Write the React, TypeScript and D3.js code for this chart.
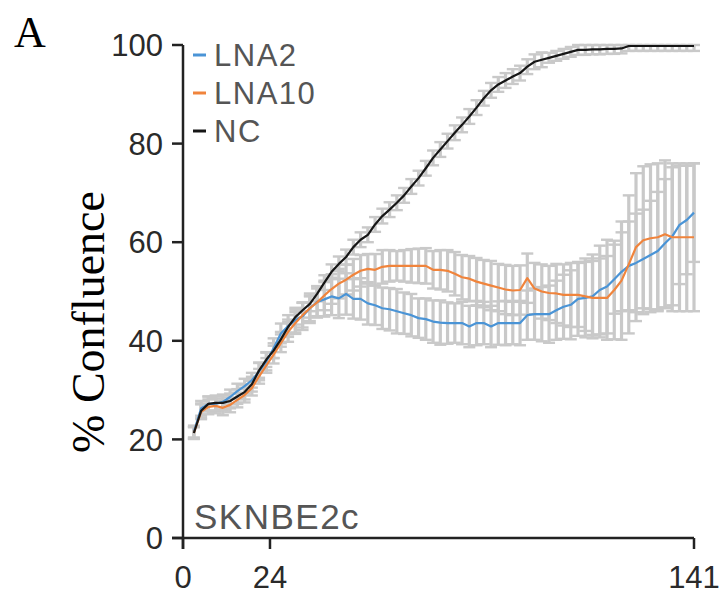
import React from "react";
import * as d3 from "d3";

// Time points (hours)
const hours = [
  3, 5, 7, 9, 11, 13, 15, 17, 19, 21, 23, 25, 27, 29, 31, 33, 35, 37, 39, 41,
  43, 45, 47, 49, 51, 53, 55, 57, 59, 61, 63, 65, 67, 69, 71, 73, 75, 77, 79, 81,
  83, 85, 87, 89, 91, 93, 95, 97, 99, 101, 103, 105, 107, 109, 111, 113, 115, 117, 119, 121,
  123, 125, 127, 129, 131, 133, 135, 137, 139, 141,
];

const lna2 = [
  21.6, 26.3, 27.2, 27.2, 27.6, 28.6, 29.8, 30.8, 32.0, 33.8, 35.8, 38.5, 41.5, 43.0, 44.2, 45.0, 46.6, 47.9, 48.4, 49.0,
  48.6, 49.5, 48.5, 48.5, 47.6, 47.2, 46.6, 46.4, 46.0, 45.6, 45.2, 44.6, 44.4, 43.9, 43.7, 43.6, 43.6, 43.6, 42.9, 43.6,
  43.6, 42.9, 43.6, 43.6, 43.6, 43.6, 45.2, 45.4, 45.4, 45.4, 46.2, 46.9, 47.3, 48.5, 48.7, 49.0, 50.3, 51.0, 52.5, 54.0,
  55.2, 55.8, 56.6, 57.4, 58.2, 59.8, 61.2, 63.5, 64.5, 66.0,
];
const lna2Err = [
  1.2, 1.5, 1.5, 1.5, 1.5, 1.5, 1.5, 1.5, 1.5, 1.8, 1.8, 2.0, 2.0, 2.2, 2.5, 2.8, 3.0, 3.2, 3.5, 3.8,
  4.0, 4.2, 4.0, 4.2, 4.3, 4.0, 4.2, 4.3, 4.5, 4.2, 4.3, 4.0, 4.2, 4.3, 4.5, 4.2, 4.0, 4.3, 4.2, 4.5,
  4.3, 4.2, 4.4, 4.5, 4.3, 4.5, 5.0, 5.2, 5.5, 5.8, 6.0, 6.5, 7.0, 7.5, 8.0, 8.5, 9.0, 9.5, 7.0, 8.0,
  9.0, 10.0, 10.0, 11.0, 12.0, 13.0, 14.0, 12.0, 11.0, 10.0,
];

const lna10 = [
  21.3, 25.6, 26.6, 26.8, 26.4, 27.0, 28.0, 29.0, 30.4, 32.8, 35.0, 37.2, 39.5, 41.8, 43.6, 45.2, 46.6, 47.8, 49.2, 50.5,
  51.6, 52.4, 53.4, 54.2, 54.6, 54.4, 55.0, 55.2, 55.2, 55.2, 55.2, 55.2, 55.2, 54.4, 54.4, 54.2, 53.6, 52.9, 52.6, 52.0,
  51.6, 51.2, 50.8, 50.4, 50.2, 50.3, 52.7, 50.6, 50.0, 49.7, 49.6, 49.3, 49.3, 49.3, 49.0, 48.7, 48.7, 48.7, 50.3, 52.2,
  55.5, 59.0, 60.4, 60.8, 61.0, 61.6, 61.0, 61.0, 61.0, 61.0,
];
const lna10Err = [
  1.2, 1.5, 1.5, 1.5, 1.5, 1.5, 1.5, 1.5, 1.5, 1.5, 1.5, 1.8, 1.8, 2.0, 2.2, 2.5, 2.6, 2.8, 3.0, 3.0,
  3.0, 3.0, 3.2, 3.2, 3.0, 3.2, 3.4, 3.2, 3.0, 3.2, 3.4, 3.5, 3.6, 3.8, 4.0, 4.2, 4.4, 4.5, 4.6, 4.8,
  4.8, 5.0, 4.8, 5.0, 5.0, 5.0, 5.0, 5.2, 5.5, 5.5, 6.0, 6.2, 6.5, 6.5, 7.0, 7.5, 8.0, 8.5, 10.0, 12.0,
  14.0, 15.0, 15.0, 15.0, 15.0, 15.0, 15.0, 15.0, 15.0, 15.0,
];

const nc = [
  21.3, 25.8, 27.2, 27.4, 27.4, 27.8, 28.7, 29.6, 31.2, 34.0, 36.2, 38.0, 40.3, 42.8, 44.8, 46.2, 47.5, 49.5, 51.8, 54.0,
  55.6, 57.0, 59.0, 60.5, 61.5, 63.6, 65.3, 66.6, 68.0, 69.5, 71.3, 73.0, 75.0, 77.1, 78.8, 80.5, 82.2, 83.8, 85.5, 87.3,
  89.2, 90.8, 92.0, 92.8, 93.6, 94.3, 95.6, 96.6, 97.0, 97.4, 97.8, 98.2, 98.6, 99.0, 99.0, 99.1, 99.1, 99.2, 99.2, 99.3,
  99.8, 99.8, 99.8, 99.8, 99.8, 99.8, 99.8, 99.8, 99.8, 99.8,
];
const ncErr = [
  1.2, 1.5, 1.5, 1.5, 1.5, 1.5, 1.5, 1.5, 1.5, 1.5, 1.5, 1.5, 1.5, 1.5, 1.5, 1.5, 1.5, 1.5, 1.5, 1.5,
  1.5, 1.5, 1.5, 1.5, 1.5, 1.5, 1.5, 1.5, 1.5, 1.5, 1.5, 1.5, 1.5, 1.5, 1.5, 1.5, 1.5, 1.5, 1.5, 1.5,
  1.5, 1.5, 1.5, 1.5, 1.5, 1.5, 1.5, 1.5, 1.5, 1.0, 1.0, 1.0, 1.0, 1.0, 1.0, 1.0, 1.0, 1.0, 1.0, 1.0,
  1.0, 1.0, 1.0, 1.0, 1.0, 1.0, 1.0, 1.0, 1.0, 1.0,
];

const seriesNames = ["LNA2", "LNA10", "NC"];
const seriesColors = ["#4a94d6", "#f0843c", "#161616"];
const yTicks = [0, 20, 40, 60, 80, 100];
const xTicks = [0, 24, 141];

const W = 727;
const H = 594;

export default function App() {
  const x = d3.scaleLinear().domain([0, 141]).range([183, 694]);
  const y = d3.scaleLinear().domain([0, 100]).range([538, 45]);
  const values = [lna2, lna10, nc];
  const errs = [lna2Err, lna10Err, ncErr];

  const line = d3
    .line<number>()
    .x((_, i) => x(hours[i]))
    .y((d) => y(d));

  const capHalf = 6;
  const sans = "'Liberation Sans', Arial, sans-serif";
  const serif = "'Liberation Serif', 'Times New Roman', serif";

  return (
    <svg width={W} height={H} style={{ position: "absolute", left: 0, top: 0, background: "#fff" }}>
      {/* error bars */}
      <g stroke="#c9c9c9" strokeWidth={3.2}>
        {values.map((vals, si) =>
          vals.map((v, i) => {
            const lo = Math.max(0, v - errs[si][i]);
            const hi = Math.min(100, v + errs[si][i]);
            const cx = x(hours[i]);
            return (
              <g key={`e${si}-${i}`}>
                <line x1={cx} x2={cx} y1={y(lo)} y2={y(hi)} />
                <line x1={cx - capHalf} x2={cx + capHalf} y1={y(lo)} y2={y(lo)} strokeWidth={2.4} />
                <line x1={cx - capHalf} x2={cx + capHalf} y1={y(hi)} y2={y(hi)} strokeWidth={2.4} />
              </g>
            );
          })
        )}
      </g>
      {/* lines */}
      {values.map((vals, si) => (
        <path key={`l${si}`} d={line(vals) || ""} fill="none" stroke={seriesColors[si]} strokeWidth={2.2} strokeLinejoin="round" />
      ))}

      {/* axes */}
      <g stroke="#222" strokeWidth={2.5} fill="none">
        <line x1={x(0)} x2={x(0)} y1={y(100)} y2={y(0) + 11} />
        <line x1={x(0) - 11} x2={x(141)} y1={y(0)} y2={y(0)} />
        {yTicks.map((t) => (
          <line key={`yt${t}`} x1={x(0) - 11} x2={x(0)} y1={y(t)} y2={y(t)} />
        ))}
        {xTicks.map((t) => (
          <line key={`xt${t}`} x1={x(t)} x2={x(t)} y1={y(0)} y2={y(0) + 11} />
        ))}
      </g>
      <g fontFamily={sans} fontSize={31} fill="#2a2a2a">
        {yTicks.map((t) => (
          <text key={`yl${t}`} x={x(0) - 20} y={y(t)} dy="0.36em" textAnchor="end">
            {t}
          </text>
        ))}
        {xTicks.map((t) => (
          <text key={`xl${t}`} x={x(t)} y={588} textAnchor="middle">
            {t}
          </text>
        ))}
      </g>

      {/* y label */}
      <text
        transform={`translate(104, 322) rotate(-90)`}
        textAnchor="middle"
        fontFamily={serif}
        fontSize={46}
        fill="#000"
      >
        % Confluence
      </text>
      {/* panel letter */}
      <text x={14} y={47} fontFamily={serif} fontSize={44} fill="#000">
        A
      </text>

      {/* legend */}
      <g fontFamily={sans} fontSize={31} fill="#555" letterSpacing={1.5}>
        {seriesNames.map((n, i) => (
          <g key={n}>
            <line x1={193} x2={206} y1={55 + i * 38} y2={55 + i * 38} stroke={seriesColors[i]} strokeWidth={3} />
            <text x={214} y={55 + i * 38} dy="0.36em">
              {n}
            </text>
          </g>
        ))}
      </g>
      <text x={194} y={529} fontFamily={sans} fontSize={35} fill="#555" letterSpacing={1.5}>
        SKNBE2c
      </text>
    </svg>
  );
}
